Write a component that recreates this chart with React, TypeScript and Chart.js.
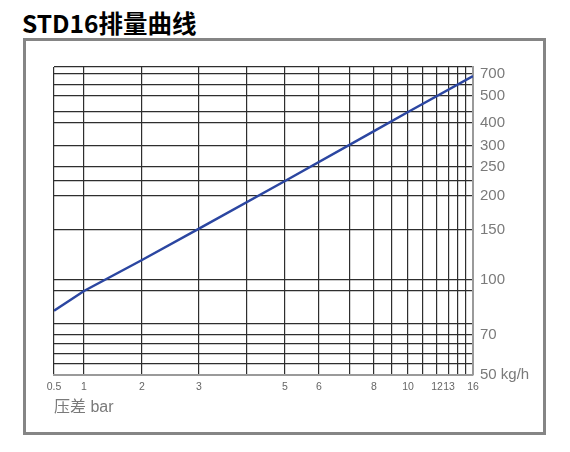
import { useEffect, useRef } from 'react';
import { Chart, LinearScale, registerables } from 'chart.js';

// STD16: 压差 (bar) -> 排量 (kg/h)
const pressure = [0.5, 1, 2, 3, 5, 8, 10, 16];
const flow = [84, 90, 120, 152, 225, 365, 450, 680];

// x axis: every grid line, and the ones that carry a label
const pressureGrid = [0.5, 1, 2, 3, 4, 5, 6, 7, 8, 9, 10, 11, 12, 13, 14, 15, 16];
const pressureLabels = [0.5, 1, 2, 3, 5, 6, 8, 10, 12, 13, 16];

// y axis: every grid line, and the ones that carry a label
const flowGrid = [50, 55, 60, 65, 70, 80, 90, 100, 150, 200, 225, 250, 300, 400, 450, 500, 600, 700, 800];
const flowLabels = [50, 70, 100, 150, 200, 250, 300, 400, 500, 700];

// the printed grid is not a true log-log grid, so each axis is a stepped
// scale: where each grid value sits along the axis (0 = start, 1 = end)
const pressureSteps = [0, 0.0716, 0.21, 0.3461, 0.4606, 0.5513, 0.6325, 0.7064, 0.7637, 0.8067, 0.8449, 0.8807, 0.9141, 0.9427, 0.9642, 0.9833, 1];
const flowSteps = [0, 0.0357, 0.0682, 0.1006, 0.1299, 0.1656, 0.2727, 0.3084, 0.4708, 0.5812, 0.6299, 0.6753, 0.7435, 0.8182, 0.8539, 0.9058, 0.9416, 0.9773, 1];

function stepScale(id: string, stops: number[], at: number[]) {
  return class extends LinearScale {
    static id = id;

    getPixelForValue(value: number) {
      let i = 1;
      while (i < stops.length - 1 && value > stops[i]) i++;
      const t = (value - stops[i - 1]) / (stops[i] - stops[i - 1]);
      return this.getPixelForDecimal(at[i - 1] + t * (at[i] - at[i - 1]));
    }

    getValueForPixel(pixel: number) {
      const d = this.getDecimalForPixel(pixel);
      let i = 1;
      while (i < at.length - 1 && d > at[i]) i++;
      const t = (d - at[i - 1]) / (at[i] - at[i - 1]);
      return stops[i - 1] + t * (stops[i] - stops[i - 1]);
    }
  };
}

Chart.register(
  ...registerables,
  stepScale('pressure', pressureGrid, pressureSteps),
  stepScale('flow', flowGrid, flowSteps)
);

const FONT = "'Liberation Sans', 'Noto Sans CJK SC', sans-serif";

export default function App() {
  const chartRef = useRef<HTMLCanvasElement>(null);
  const chartInstance = useRef<Chart | null>(null);

  useEffect(() => {
    if (!chartRef.current) return;
    if (chartInstance.current) chartInstance.current.destroy();

    chartInstance.current = new Chart(chartRef.current, {
      type: 'line',
      data: {
        datasets: [{
          data: pressure.map((p, i) => ({ x: p, y: flow[i] })),
          borderColor: '#2b46a1',
          borderWidth: 2.5,
          pointRadius: 0,
          tension: 0,
        }]
      },
      options: {
        animation: false,
        responsive: true,
        maintainAspectRatio: false,
        layout: { padding: { left: 54, top: 67, right: 27, bottom: 27 } },
        plugins: {
          legend: { display: false },
          tooltip: { enabled: false },
        },
        scales: {
          x: {
            type: 'pressure' as any,
            min: 0.5,
            max: 16,
            afterBuildTicks: (axis: any) => {
              axis.ticks = pressureGrid.map((value) => ({ value }));
            },
            afterFit: (axis: any) => { axis.height = 50; },
            grid: { color: '#2e2e2e', lineWidth: 1.2, drawTicks: false },
            border: { color: '#9a9a9a', width: 2 },
            ticks: {
              autoSkip: false,
              maxRotation: 0,
              padding: 6,
              color: '#666',
              font: { size: 10.5, family: FONT },
              callback: (value: any) => (pressureLabels.includes(Number(value)) ? String(value) : ''),
            },
            title: {
              display: true,
              text: '压差 bar',
              align: 'start',
              color: '#7a7a7a',
              font: { size: 16, family: FONT },
              padding: { top: 0, bottom: 8 },
            },
          },
          y: {
            type: 'flow' as any,
            position: 'right',
            min: 50,
            max: 800,
            afterBuildTicks: (axis: any) => {
              axis.ticks = flowGrid.map((value) => ({ value }));
            },
            afterFit: (axis: any) => { axis.width = 70; },
            grid: { color: '#2e2e2e', lineWidth: 1.2, drawTicks: false },
            border: { color: '#9a9a9a', width: 2 },
            ticks: {
              autoSkip: false,
              padding: 7,
              color: '#7a7a7a',
              font: { size: 15, family: FONT },
              callback: (value: any) => {
                const v = Number(value);
                if (!flowLabels.includes(v)) return '';
                return v === 50 ? '50 kg/h' : String(v);
              },
            },
          },
        },
      },
    });

    return () => {
      if (chartInstance.current) {
        chartInstance.current.destroy();
        chartInstance.current = null;
      }
    };
  }, []);

  return (
    <div style={{ position: 'absolute', left: 0, top: 0, width: 570, height: 452, background: '#fff' }}>
      <div
        style={{
          position: 'absolute',
          left: 22,
          top: 8,
          font: "700 24.5px 'Noto Sans CJK SC', sans-serif",
          lineHeight: '30px',
          color: '#000',
          whiteSpace: 'nowrap',
        }}
      >
        STD16排量曲线
      </div>
      <div
        style={{
          position: 'absolute',
          left: 23,
          top: 38,
          width: 523,
          height: 397,
          border: '3px solid #858585',
          boxSizing: 'border-box',
        }}
      />
      <div style={{ position: 'absolute', left: 0, top: 0, width: 570, height: 452 }}>
        <canvas ref={chartRef}></canvas>
      </div>
    </div>
  );
}
